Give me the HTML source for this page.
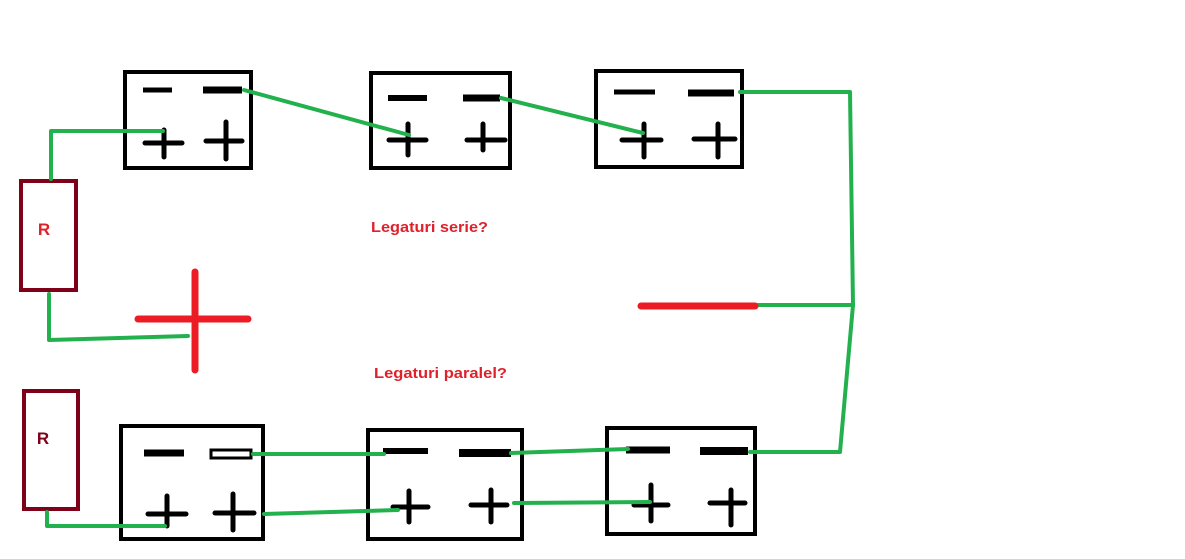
<!DOCTYPE html>
<html><head><meta charset="utf-8"><style>html,body{margin:0;padding:0;background:#fff;}svg{display:block}</style></head>
<body>
<svg width="1185" height="559" viewBox="0 0 1185 559" xmlns="http://www.w3.org/2000/svg">
<rect width="1185" height="559" fill="#fff"/>
<g fill="none" stroke="#000" stroke-width="4">
<rect x="125" y="72" width="126" height="96"/>
<rect x="371" y="73" width="139" height="95"/>
<rect x="596" y="71" width="146" height="96"/>
<rect x="121" y="426" width="142" height="113"/>
<rect x="368" y="430" width="154" height="109"/>
<rect x="607" y="428" width="148" height="106"/>
</g>
<g stroke="#000" stroke-linecap="round">
<g stroke-linecap="butt">
<line x1="143" y1="90" x2="172" y2="90" stroke-width="5"/>
<line x1="203" y1="90" x2="242" y2="90" stroke-width="7"/>
<line x1="388" y1="98" x2="427" y2="98" stroke-width="6"/>
<line x1="463" y1="98" x2="500" y2="98" stroke-width="7"/>
<line x1="614" y1="92" x2="655" y2="92" stroke-width="5"/>
<line x1="688" y1="93" x2="734" y2="93" stroke-width="7"/>
<line x1="144" y1="453" x2="184" y2="453" stroke-width="7"/>
<rect x="211" y="450" width="40" height="8" fill="#fff" stroke-width="3"/>
<line x1="383" y1="451" x2="428" y2="451" stroke-width="6"/>
<line x1="459" y1="453" x2="511" y2="453" stroke-width="8"/>
<line x1="626" y1="450" x2="670" y2="450" stroke-width="7"/>
<line x1="700" y1="451" x2="748" y2="451" stroke-width="8"/>
</g>
<g stroke-width="5">
<path d="M145 143H182M164 130V157"/>
<path d="M206 141H242M226 122V159"/>
<path d="M389 140H426M408 124V155"/>
<path d="M467 140H505M483 124V150"/>
<path d="M622 140H661M644 124V157"/>
<path d="M694 139H735M718 124V157"/>
<path d="M148 514H186M167 496V526"/>
<path d="M215 513H254M233 494V530"/>
<path d="M393 507H428M409 491V522"/>
<path d="M471 505H507M491 490V522"/>
<path d="M634 505H668M651 485V521"/>
<path d="M710 503H745M731 490V525"/>
</g>
</g>
<g fill="none" stroke="#7f0019" stroke-width="4">
<rect x="21" y="181" width="55" height="109"/>
<rect x="24" y="391" width="54" height="118"/>
</g>
<text x="44" y="235" font-family="Liberation Sans, sans-serif" font-weight="bold" font-size="17" fill="#e0202a" text-anchor="middle">R</text>
<text x="43" y="444" font-family="Liberation Sans, sans-serif" font-weight="bold" font-size="17" fill="#7f0019" text-anchor="middle">R</text>
<g fill="none" stroke="#22b14c" stroke-width="4" stroke-linecap="round" stroke-linejoin="round">
<path d="M163 131H51V179"/>
<path d="M244 90L409 135"/>
<path d="M501 98L643 133"/>
<path d="M740 92H850L853 305L840 452H750"/>
<path d="M758 305H853"/>
<path d="M49 294V340L188 336"/>
<path d="M47 512V526H165"/>
<path d="M253 454H384"/>
<path d="M511 453L628 449"/>
<path d="M264 514L398 510"/>
<path d="M514 503L650 502"/>
</g>
<g stroke="#ed1c24" stroke-width="7" stroke-linecap="round">
<line x1="138" y1="319" x2="248" y2="319"/>
<line x1="195" y1="272" x2="195" y2="370"/>
<line x1="641" y1="306" x2="755" y2="306"/>
</g>
<g font-family="Liberation Sans, sans-serif" font-weight="bold" font-size="15" fill="#e0202a">
<text x="371" y="232" textLength="117" lengthAdjust="spacingAndGlyphs">Legaturi serie?</text>
<text x="374" y="378" textLength="133" lengthAdjust="spacingAndGlyphs">Legaturi paralel?</text>
</g>
</svg>
</body></html>
